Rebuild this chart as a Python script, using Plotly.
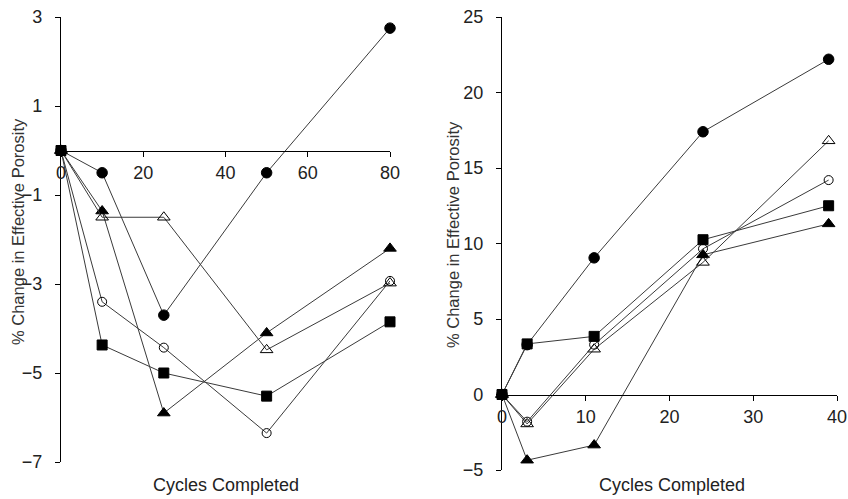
import plotly.graph_objects as go

# ---- data ----
cycles_left = [0, 10, 25, 50, 80]
left_filled_circle = [0, -0.5, -3.7, -0.5, 2.75]
left_filled_triangle = [0, -1.36, -5.9, -4.1, -2.2]
left_open_triangle = [0, -1.5, -1.5, -4.48, -2.98]
left_open_circle = [0, -3.4, -4.43, -6.35, -2.93]
left_filled_square = [0, -4.37, -5.0, -5.52, -3.85]

cycles_right = [0, 3, 11, 24, 39]
right_filled_circle = [0, 3.3, 9.05, 17.4, 22.2]
right_open_triangle = [0, -1.95, 3.0, 8.75, 16.8]
right_open_circle = [0, -1.8, 3.3, 9.65, 14.2]
right_filled_square = [0, 3.35, 3.85, 10.25, 12.5]
right_filled_triangle = [0, -4.35, -3.35, 9.25, 11.3]

left_yticks = [-7, -5, -3, -1, 1, 3]
left_xticks = [0, 20, 40, 60, 80]
right_yticks = [-5, 0, 5, 10, 15, 20, 25]
right_xticks = [0, 10, 20, 30, 40]

x_title = "Cycles Completed"
y_title = "% Change in Effective Porosity"

# ---- layout geometry ----
W, H = 848, 499
def fx(px):
    return px / W
def fy(py):
    return 1 - py / H

lx_dom = [fx(61), fx(390)]
ly_dom = [fy(462), fy(17)]
rx_dom = [fx(502), fx(837)]
ry_dom = [fy(470), fy(17)]
ly_range = [-7, 3]
ry_range = [-5, 25]

def zero_pos(dom, rng):
    return dom[0] + (0 - rng[0]) / (rng[1] - rng[0]) * (dom[1] - dom[0])

FONT = "Liberation Sans, Arial, sans-serif"
TXT = "#222222"
LINE = "#3a3a3a"

fig = go.Figure()

styles = [
    ("filled circle", "circle", "black", 10.5),
    ("filled triangle", "triangle-up", "black", 11),
    ("open triangle", "triangle-up-open", "black", 11),
    ("open circle", "circle-open", "black", 9),
    ("filled square", "square", "black", 10),
]
left_series = [left_filled_circle, left_filled_triangle, left_open_triangle,
               left_open_circle, left_filled_square]
right_series = [right_filled_circle, right_filled_triangle, right_open_triangle,
                right_open_circle, right_filled_square]

for (name, sym, col, sz), ys in zip(styles, left_series):
    fig.add_trace(go.Scatter(
        x=cycles_left, y=ys, mode="lines+markers", name=name,
        line=dict(color=LINE, width=1),
        marker=dict(symbol=sym, color=col, size=sz, line=dict(color="black", width=1)),
        xaxis="x", yaxis="y", cliponaxis=False, showlegend=False))

for (name, sym, col, sz), ys in zip(styles, right_series):
    fig.add_trace(go.Scatter(
        x=cycles_right, y=ys, mode="lines+markers", name=name,
        line=dict(color=LINE, width=1),
        marker=dict(symbol=sym, color=col, size=sz, line=dict(color="black", width=1)),
        xaxis="x2", yaxis="y2", cliponaxis=False, showlegend=False))

axis_common = dict(showgrid=False, zeroline=False, showline=True, linecolor="black",
                   linewidth=1.3, ticks="outside", ticklen=5, tickwidth=1.3,
                   tickcolor="black", automargin=False, ticklabeloverflow="allow",
                   tickfont=dict(family=FONT, size=18, color=TXT))

def title_ann(text, x, y, angle=0, size=18, color=TXT):
    return dict(text=text, x=fx(x), y=fy(y), xref="paper", yref="paper",
                xanchor="center", yanchor="middle", textangle=angle,
                showarrow=False, font=dict(family=FONT, size=size, color=color))

fig.update_layout(
    width=W, height=H,
    margin=dict(l=0, r=0, t=0, b=0, autoexpand=False),
    paper_bgcolor="white", plot_bgcolor="white",
    xaxis=dict(domain=lx_dom, range=[0, 80], tickvals=left_xticks,
               anchor="free", position=zero_pos(ly_dom, ly_range),
               ticklabelstandoff=1, **axis_common),
    yaxis=dict(domain=ly_dom, range=ly_range, tickvals=left_yticks,
               anchor="x", ticklabelstandoff=9, **axis_common),
    xaxis2=dict(domain=rx_dom, range=[0, 40], tickvals=right_xticks,
                anchor="free", position=zero_pos(ry_dom, ry_range),
                ticklabelstandoff=1, **axis_common),
    yaxis2=dict(domain=ry_dom, range=ry_range, tickvals=right_yticks,
                anchor="x2", ticklabelstandoff=9, **axis_common),
    annotations=[
        title_ann(x_title, 226, 485),
        title_ann(x_title, 672, 485),
        title_ann(y_title, 18, 232, angle=-90, size=16.5, color="#333333"),
        title_ann(y_title, 453, 235, angle=-90, size=16.5, color="#333333"),
    ],
)

# remove the default page margin so the figure fills the 848x499 window exactly
fig.write_html("out.html",
               config={"displayModeBar": False},
               post_script="document.body.style.margin='0';"
                           "document.body.style.overflow='hidden';")
